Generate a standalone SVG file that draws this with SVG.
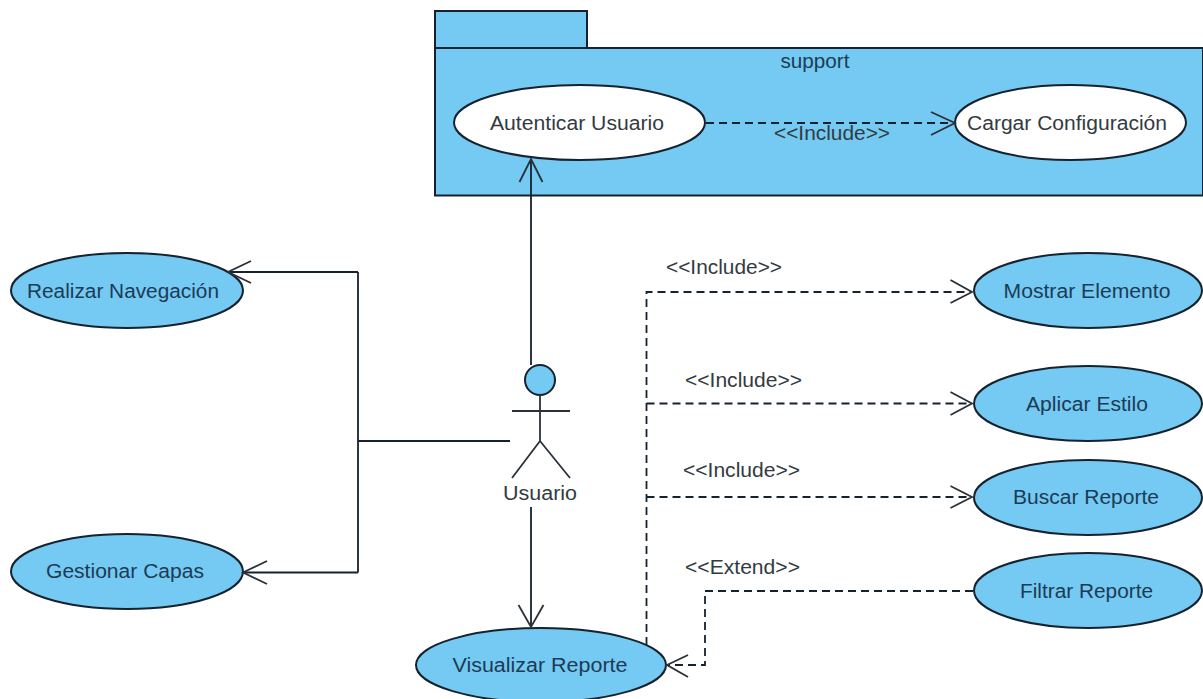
<svg xmlns="http://www.w3.org/2000/svg" width="1203" height="699" viewBox="0 0 1203 699">
<style>
text{font-family:"Liberation Sans",Arial,sans-serif;font-size:19.500px;fill:#1d3b55;text-anchor:middle}
.g{fill:#333b42}
.uc{fill:#74caf2;stroke:#16222e;stroke-width:2}
.w{fill:#fff;stroke:#16222e;stroke-width:2}
.l{fill:none;stroke:#16222e;stroke-width:1.8}
.d{fill:none;stroke:#16222e;stroke-width:1.8;stroke-dasharray:8 5}
.o{fill:none;stroke:#2a3138;stroke-width:1.800}
</style>
<rect width="1203" height="699" fill="#fff"/>
<g id="pkg-support">
<rect x="435" y="11" width="152" height="37" class="uc"/>
<rect x="435" y="48" width="768" height="147.500" class="uc"/>
<text x="815" y="68" textLength="69" lengthAdjust="spacingAndGlyphs">support</text>
</g>
<g id="autenticar"><ellipse cx="579.500" cy="122.500" rx="125.500" ry="37.500" class="w"/><text class="g" x="577" y="130" textLength="174" lengthAdjust="spacingAndGlyphs">Autenticar Usuario</text></g>
<g id="cargar"><ellipse cx="1070.500" cy="122.500" rx="115.500" ry="37.500" class="w"/><text class="g" x="1067" y="130" textLength="200" lengthAdjust="spacingAndGlyphs">Cargar Configuración</text></g>
<g id="realizar"><ellipse cx="127" cy="290.500" rx="116" ry="37.500" class="uc"/><text x="123" y="298" textLength="192" lengthAdjust="spacingAndGlyphs">Realizar Navegación</text></g>
<g id="gestionar"><ellipse cx="127" cy="571.500" rx="116" ry="37.500" class="uc"/><text x="125" y="578" textLength="158" lengthAdjust="spacingAndGlyphs">Gestionar Capas</text></g>
<g id="mostrar"><ellipse cx="1088" cy="290.500" rx="114" ry="37.500" class="uc"/><text x="1087" y="298" textLength="167" lengthAdjust="spacingAndGlyphs">Mostrar Elemento</text></g>
<g id="aplicar"><ellipse cx="1088" cy="403.500" rx="114" ry="37.500" class="uc"/><text x="1087" y="411" textLength="122" lengthAdjust="spacingAndGlyphs">Aplicar Estilo</text></g>
<g id="buscar"><ellipse cx="1088" cy="497.500" rx="114" ry="37.500" class="uc"/><text x="1086" y="504" textLength="146" lengthAdjust="spacingAndGlyphs">Buscar Reporte</text></g>
<g id="filtrar"><ellipse cx="1088" cy="590.500" rx="114" ry="37.500" class="uc"/><text x="1086.500" y="598" textLength="133" lengthAdjust="spacingAndGlyphs">Filtrar Reporte</text></g>
<g id="visualizar"><ellipse cx="541" cy="665" rx="125" ry="37" class="uc"/><text x="540" y="672" textLength="175" lengthAdjust="spacingAndGlyphs">Visualizar Reporte</text></g>
<g id="usuario">
<circle cx="540" cy="380" r="15" class="uc"/>
<path class="o" d="M540 395V441M512 411H570M540 441L512 478M540 441L570 478"/>
<text class="g" x="540" y="500" textLength="74" lengthAdjust="spacingAndGlyphs">Usuario</text>
</g>
<g id="connectors">
<path class="l" d="M531 365V160M531 507V627M510 441H358M358 272V572.500M358 272H229M358 572.500H244"/>
<path class="o" d="M519.500 182L531 159L542.500 182M518.500 605L531 627L543.500 605M251 261L228 272L251 283M267 561L243 572.500L267 584"/>
<path class="d" d="M706 123H955M646.500 645V292H970M646.500 403.500H970M646.500 497H970M973 591H705V665H668"/>
<path class="o" d="M931 112L955 123L931 135M950.500 280L972 292L950.500 303M950.500 392L972 403.500L950.500 415M950.500 486L972 497L950.500 508M688 655L667 665L688 677"/>
<g>
<text class="g" x="832" y="140" textLength="116" lengthAdjust="spacingAndGlyphs">&lt;&lt;Include&gt;&gt;</text>
<text class="g" x="724" y="274" textLength="116" lengthAdjust="spacingAndGlyphs">&lt;&lt;Include&gt;&gt;</text>
<text class="g" x="743.500" y="387" textLength="117" lengthAdjust="spacingAndGlyphs">&lt;&lt;Include&gt;&gt;</text>
<text class="g" x="741.500" y="477" textLength="117" lengthAdjust="spacingAndGlyphs">&lt;&lt;Include&gt;&gt;</text>
<text class="g" x="742.500" y="574" textLength="115" lengthAdjust="spacingAndGlyphs">&lt;&lt;Extend&gt;&gt;</text>
</g>
</g>
</svg>
